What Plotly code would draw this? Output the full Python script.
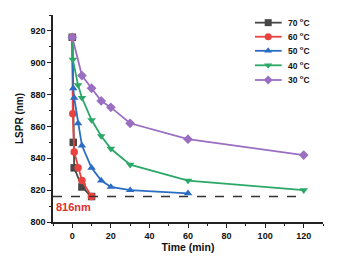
import plotly.graph_objects as go

t70 = [0, 0.5, 1, 5, 10]
y70 = [916, 850, 834, 822, 816]
t60 = [0, 0.25, 1, 3, 5, 10]
y60 = [916, 868, 844, 834, 826, 816]
t50 = [0, 0.5, 1, 3, 5, 10, 15, 20, 30, 60]
y50 = [916, 884, 878, 862, 848, 834, 826, 822, 820, 818]
t40 = [0, 0.3, 3, 5, 10, 15, 20, 30, 60, 120]
y40 = [916, 902, 886, 878, 864, 854, 846, 836, 826, 820]
t30 = [0, 5, 10, 15, 20, 30, 60, 120]
y30 = [916, 892, 884, 876, 872, 862, 852, 842]

names = ["70 <sup>o</sup>C", "60 <sup>o</sup>C", "50 <sup>o</sup>C", "40 <sup>o</sup>C", "30 <sup>o</sup>C"]
colors = ["#474747", "#e8433f", "#2b6cc4", "#2ba867", "#9a6fc2"]
symbols = ["square", "circle", "triangle-up", "triangle-down", "diamond"]
ref_value = 816
ref_label = "816nm"
x_ticks = [0, 20, 40, 60, 80, 100, 120]
y_ticks = [800, 820, 840, 860, 880, 900, 920]

FONT = "Liberation Sans, Arial"
series = [(t70, y70), (t60, y60), (t50, y50), (t40, y40), (t30, y30)]

fig = go.Figure()
for (t, y), n, c, s in zip(series, names, colors, symbols):
    fig.add_trace(go.Scatter(x=t, y=y, name=n, mode="lines+markers", showlegend=False,
                             line=dict(color=c, width=1.8),
                             marker=dict(symbol=s, size=7.5, color=c)))

# compact legend (drawn manually so rows are 14 px apart as in the reference)
leg_x0, leg_x1, leg_xm, leg_xt = 0.748, 0.847, 0.797, 0.862
leg_y = [0.963, 0.895, 0.827, 0.757, 0.686]
for n, c, ly in zip(names, colors, leg_y):
    fig.add_shape(type="line", xref="paper", yref="paper", x0=leg_x0, x1=leg_x1, y0=ly, y1=ly,
                  line=dict(color=c, width=1.8))
    fig.add_annotation(xref="paper", yref="paper", x=leg_xt, y=ly, text="<b>" + n + "</b>",
                       showarrow=False, xanchor="left", yanchor="middle",
                       font=dict(size=8.5, family=FONT, color="#111111"))
fig.add_trace(go.Scatter(x=[leg_xm] * 5, y=leg_y, xaxis="x2", yaxis="y2", mode="markers",
                         showlegend=False, hoverinfo="skip",
                         marker=dict(symbol=symbols, size=7, color=colors)))

fig.add_shape(type="line", x0=-10, x1=120, y0=ref_value, y1=ref_value,
              xref="x", yref="y", line=dict(color="#333333", width=1.3, dash="dash"))
fig.add_annotation(x=-9.5, y=ref_value, xref="x", yref="y", text="<b>" + ref_label + "</b>",
                   showarrow=False, xanchor="left", yanchor="top", yshift=-2,
                   font=dict(color="#e0302e", size=11, family=FONT))

axis_common = dict(showline=True, linecolor="#222222", linewidth=1.5, ticks="outside",
                   ticklen=4, tickwidth=1.2, tickcolor="#222222", showgrid=False, zeroline=False,
                   tickfont=dict(size=9, family=FONT, color="#111111"),
                   mirror=False, automargin=False)

fig.update_xaxes(range=[-10, 130], tickvals=x_ticks,
                 ticktext=["<b>%d</b>" % v for v in x_ticks],
                 minor=dict(ticks="outside", ticklen=2.5, dtick=10, tick0=0, tickcolor="#222222"),
                 title=dict(text="<b>Time (min)</b>", font=dict(size=10.5, family=FONT, color="#111111"), standoff=4),
                 **axis_common)
fig.update_yaxes(range=[800, 930], tickvals=y_ticks,
                 ticktext=["<b>%d</b>" % v for v in y_ticks],
                 minor=dict(ticks="outside", ticklen=2.5, dtick=10, tick0=800, tickcolor="#222222"),
                 title=dict(text="<b>LSPR (nm)</b>", font=dict(size=10, family=FONT, color="#111111"), standoff=5),
                 **axis_common)

fig.update_layout(width=338, height=265, margin=dict(l=53, r=15, t=15, b=43),
                  plot_bgcolor="white", paper_bgcolor="white", showlegend=False,
                  xaxis2=dict(overlaying="x", range=[0, 1], visible=False, fixedrange=True),
                  yaxis2=dict(overlaying="y", range=[0, 1], visible=False, fixedrange=True))

fig.write_html("out.html", config={"displayModeBar": False},
               post_script="document.body.style.margin='0';document.body.style.padding='0';")
